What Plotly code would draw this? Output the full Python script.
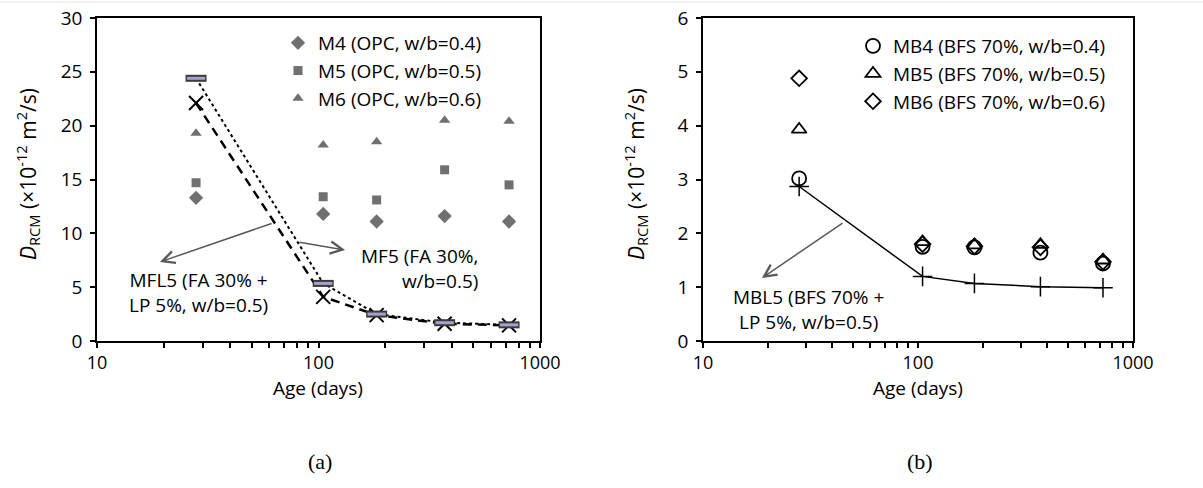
import plotly.graph_objects as go

# ---- data ----
age = [28, 105, 183, 371, 725]
m4 = [13.3, 11.8, 11.1, 11.6, 11.1]
m5 = [14.7, 13.4, 13.1, 15.9, 14.5]
m6 = [19.3, 18.2, 18.5, 20.5, 20.4]
mf5 = [24.4, 5.35, 2.5, 1.7, 1.5]
mfl5 = [22.1, 4.1, 2.4, 1.6, 1.45]

mb4 = [3.02, 1.75, 1.74, 1.64, 1.44]
mb5 = [3.93, 1.84, 1.78, 1.79, 1.50]
mb6 = [4.88, 1.80, 1.76, 1.74, 1.47]
mbl5 = [2.87, 1.20, 1.07, 1.01, 0.99]

x_tick_vals = [10, 20, 30, 40, 50, 60, 70, 80, 90, 100, 200, 300, 400, 500, 600, 700, 800, 900, 1000]
x_tick_text = ["10", "", "", "", "", "", "", "", "", "100", "", "", "", "", "", "", "", "", "1000"]

FONT = "Open Sans"
FS = 19
W, H = 1203, 488

fig = go.Figure()

gray = "#707070"
fig.add_trace(go.Scatter(x=age, y=m4, mode="markers", name="M4 (OPC, w/b=0.4)",
                         marker=dict(symbol="diamond", size=11, color=gray),
                         xaxis="x", yaxis="y", legend="legend", legendgroup="a1"))
fig.add_trace(go.Scatter(x=age, y=m5, mode="markers", name="M5 (OPC, w/b=0.5)",
                         marker=dict(symbol="square", size=9, color=gray),
                         xaxis="x", yaxis="y", legend="legend", legendgroup="a2"))
fig.add_trace(go.Scatter(x=age, y=m6, mode="markers", name="M6 (OPC, w/b=0.6)",
                         marker=dict(symbol="triangle-up", size=10, color=gray),
                         xaxis="x", yaxis="y", legend="legend", legendgroup="a3"))
fig.add_trace(go.Scatter(x=age, y=mfl5, mode="lines+markers", name="MFL5", showlegend=False,
                         line=dict(color="black", width=2.5, dash="9px,6px"),
                         marker=dict(symbol="x-thin-open", size=14, color="black",
                                     line=dict(width=2, color="black")),
                         xaxis="x", yaxis="y"))
fig.add_trace(go.Scatter(x=age, y=mf5, mode="lines+markers", name="MF5", showlegend=False,
                         line=dict(color="black", width=2, dash="dot"),
                         marker=dict(symbol="line-ew-open", size=15, color="#3a3a3a",
                                     line=dict(width=7, color="#3a3a3a")),
                         xaxis="x", yaxis="y"))
fig.add_trace(go.Scatter(x=age, y=mf5, mode="markers", name="MF5 fill", showlegend=False,
                         marker=dict(symbol="line-ew-open", size=13, color="#a99fd0",
                                     line=dict(width=3, color="#a99fd0")),
                         xaxis="x", yaxis="y"))

# right panel
fig.add_trace(go.Scatter(x=age, y=mbl5, mode="lines+markers", name="MBL5", showlegend=False,
                         line=dict(color="black", width=1.5),
                         marker=dict(symbol="cross-thin-open", size=14, color="black",
                                     line=dict(width=1.5, color="black")),
                         xaxis="x2", yaxis="y2"))
fig.add_trace(go.Scatter(x=age, y=mb4, mode="markers", name="MB4 (BFS 70%, w/b=0.4)",
                         marker=dict(symbol="circle-open", size=14, color="black",
                                     line=dict(width=1.8, color="black")),
                         xaxis="x2", yaxis="y2", legend="legend2", legendgroup="b1"))
fig.add_trace(go.Scatter(x=age, y=mb5, mode="markers", name="MB5 (BFS 70%, w/b=0.5)",
                         marker=dict(symbol="triangle-up-open", size=13, color="black",
                                     line=dict(width=1.8, color="black")),
                         xaxis="x2", yaxis="y2", legend="legend2", legendgroup="b2"))
fig.add_trace(go.Scatter(x=age, y=mb6, mode="markers", name="MB6 (BFS 70%, w/b=0.6)",
                         marker=dict(symbol="diamond-open", size=12, color="black",
                                     line=dict(width=1.8, color="black")),
                         xaxis="x2", yaxis="y2", legend="legend2", legendgroup="b3"))

def px_x(p):
    return p / W

def px_y(p):
    return 1 - p / H

xcommon = dict(type="log", range=[1, 3], tickvals=x_tick_vals, ticktext=x_tick_text,
               ticks="outside", ticklen=5, tickwidth=1.5, tickcolor="black",
               showline=True, linecolor="black", linewidth=1.5, mirror=True,
               showgrid=False, zeroline=False, ticklabelstandoff=0, automargin=False,
               tickfont=dict(family=FONT, size=18, color="black"))
ycommon = dict(ticks="outside", ticklen=5, tickwidth=1.5, tickcolor="black",
               showline=True, linecolor="black", linewidth=1.5, mirror=True,
               showgrid=False, zeroline=False, ticklabelstandoff=4, automargin=False,
               tickfont=dict(family=FONT, size=FS, color="black"))

ydom = [px_y(341), px_y(18)]
fig.update_layout(
    template="none",
    width=W, height=H,
    margin=dict(l=0, r=0, t=0, b=0, pad=0),
    paper_bgcolor="white", plot_bgcolor="white",
    xaxis=dict(domain=[px_x(97), px_x(540)], anchor="y", **xcommon),
    yaxis=dict(domain=ydom, anchor="x", range=[0, 30], dtick=5, **ycommon),
    xaxis2=dict(domain=[px_x(703), px_x(1133)], anchor="y2", **xcommon),
    yaxis2=dict(domain=ydom, anchor="x2", range=[0, 6], dtick=1, **ycommon),
    legend=dict(x=px_x(278), y=px_y(24), xanchor="left", yanchor="top",
                bgcolor="rgba(0,0,0,0)", tracegroupgap=0, borderwidth=0,
                font=dict(family=FONT, size=FS, color="black")),
    legend2=dict(x=px_x(853), y=px_y(27), xanchor="left", yanchor="top",
                 bgcolor="rgba(0,0,0,0)", tracegroupgap=0, borderwidth=0,
                 font=dict(family=FONT, size=FS, color="black")),
    showlegend=True,
)

ytitle = "<i>D</i><sub>RCM</sub> (×10<sup>-12</sup> m<sup>2</sup>/s)"

def ptext(text, x, y, size=FS, family=FONT, angle=0):
    return dict(text=text, xref="paper", yref="paper", x=px_x(x), y=px_y(y),
                xanchor="center", yanchor="middle", textangle=angle, showarrow=False,
                font=dict(family=family, size=size, color="black"))

annots = [
    ptext(ytitle, 27, 174, size=21, angle=-90),
    ptext(ytitle, 635, 174, size=21, angle=-90),
    ptext("Age (days)", 318, 388),
    ptext("Age (days)", 918, 388),
    ptext("(a)", 320, 461, size=22, family="Liberation Serif"),
    ptext("(b)", 920, 461, size=22, family="Liberation Serif"),
    # text labels
    dict(text="MFL5 (FA 30% +<br>LP 5%, w/b=0.5)", xref="x", yref="y", x=1.46, y=4.46,
         xanchor="center", yanchor="middle",
         showarrow=False, align="center", font=dict(family=FONT, size=FS, color="black")),
    dict(text="MF5 (FA 30%,<br>w/b=0.5)", xref="x", yref="y", x=2.73, y=6.78,
         xanchor="right", yanchor="middle",
         showarrow=False, align="right", font=dict(family=FONT, size=FS, color="black")),
    dict(text="MBL5 (BFS 70% +<br>LP 5%, w/b=0.5)", xref="x2", yref="y2", x=1.49, y=0.59,
         xanchor="center", yanchor="middle",
         showarrow=False, align="center", font=dict(family=FONT, size=FS, color="black")),
    # arrows
    dict(text="", xref="x", yref="y", axref="x", ayref="y", x=1.284, y=7.34, ax=1.795, ay=10.96,
         showarrow=True, arrowhead=5, arrowsize=1.6, arrowwidth=1.5, arrowcolor="#595959"),
    dict(text="", xref="x", yref="y", axref="x", ayref="y", x=2.12, y=8.45, ax=1.907, ay=9.2,
         showarrow=True, arrowhead=5, arrowsize=1.6, arrowwidth=1.5, arrowcolor="#595959"),
    dict(text="", xref="x2", yref="y2", axref="x2", ayref="y2", x=1.274, y=1.17, ax=1.656, ay=2.21,
         showarrow=True, arrowhead=5, arrowsize=1.6, arrowwidth=1.5, arrowcolor="#595959"),
]
fig.update_layout(annotations=annots)
fig.add_shape(type="line", xref="paper", yref="paper", x0=0, x1=1, y0=px_y(2), y1=px_y(2),
              line=dict(color="#e6e6e6", width=1))

fig.write_html("out.html")
